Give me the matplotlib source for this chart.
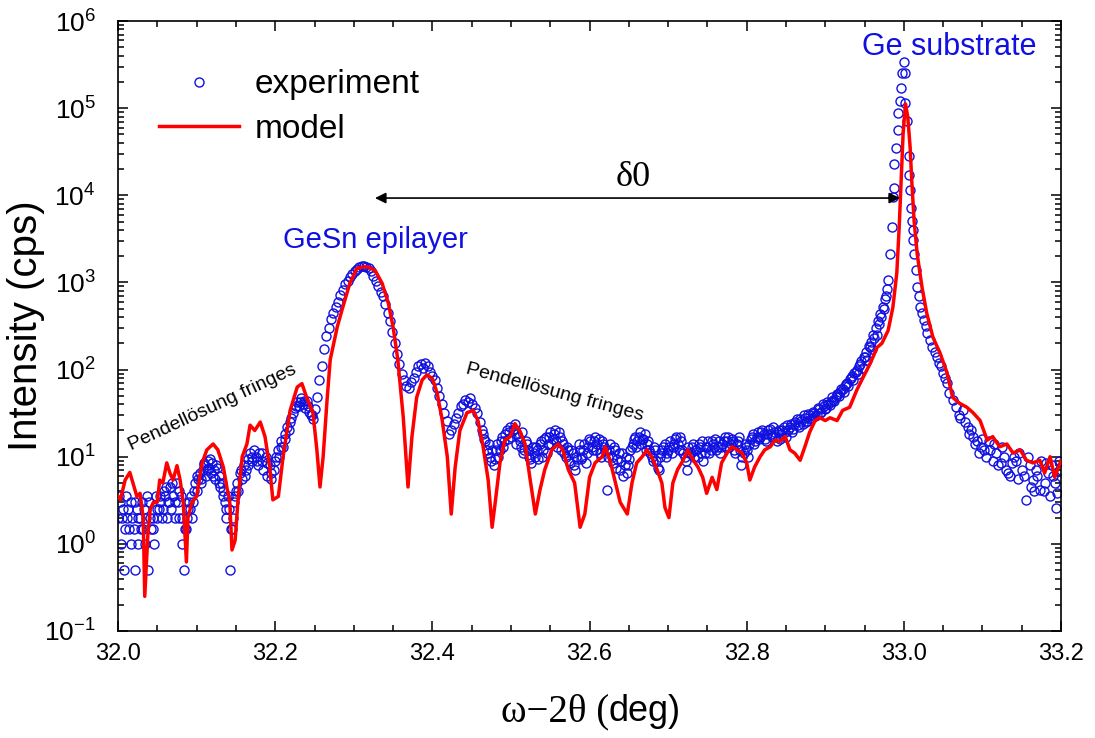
import numpy as np
import matplotlib
matplotlib.use('Agg')
import matplotlib.pyplot as plt
from matplotlib.lines import Line2D
from matplotlib.ticker import MultipleLocator, LogLocator, FuncFormatter, NullFormatter

plt.rcParams['font.family'] = ['Liberation Sans', 'DejaVu Sans']

# experiment (omega-2theta in deg, intensity in cps)
exp_x = [32.000, 32.002, 32.004, 32.006, 32.008, 32.010, 32.012, 32.014, 32.016, 32.018,
         32.020, 32.022, 32.024, 32.026, 32.028, 32.030, 32.032, 32.034, 32.036, 32.038,
         32.040, 32.042, 32.044, 32.046, 32.048, 32.050, 32.052, 32.054, 32.056, 32.058,
         32.060, 32.062, 32.064, 32.066, 32.068, 32.070, 32.072, 32.074, 32.076, 32.078,
         32.080, 32.082, 32.084, 32.086, 32.088, 32.090, 32.092, 32.094, 32.096, 32.098,
         32.100, 32.102, 32.104, 32.106, 32.108, 32.110, 32.112, 32.114, 32.116, 32.118,
         32.120, 32.122, 32.124, 32.126, 32.128, 32.130, 32.132, 32.134, 32.136, 32.138,
         32.140, 32.142, 32.144, 32.146, 32.148, 32.150,
         32.152, 32.155, 32.158, 32.160, 32.163, 32.165, 32.168, 32.170, 32.173, 32.175,
         32.178, 32.180, 32.183, 32.185, 32.188, 32.190, 32.193, 32.195, 32.198, 32.200,
         32.203, 32.205, 32.208, 32.210, 32.213, 32.215, 32.218, 32.220, 32.223, 32.225,
         32.228, 32.230, 32.233, 32.235, 32.238, 32.240, 32.243, 32.245, 32.248, 32.250,
         32.253, 32.256, 32.259, 32.262, 32.265, 32.268, 32.271, 32.274, 32.277, 32.280,
         32.283, 32.286, 32.289, 32.292, 32.295, 32.298, 32.301, 32.304, 32.307, 32.310,
         32.313, 32.316, 32.319, 32.322, 32.325, 32.328, 32.331, 32.334, 32.337, 32.340,
         32.343, 32.346, 32.349, 32.352, 32.355, 32.358, 32.361, 32.364, 32.367, 32.370,
         32.373, 32.376, 32.379, 32.382, 32.385, 32.388, 32.391, 32.394, 32.397, 32.400,
         32.403, 32.406, 32.409, 32.412, 32.415, 32.418, 32.421, 32.424, 32.427, 32.430,
         32.433, 32.436, 32.439, 32.442, 32.445, 32.448, 32.451, 32.454, 32.457, 32.460,
         32.463, 32.466, 32.469, 32.472, 32.475, 32.478, 32.481, 32.484, 32.487, 32.490,
         32.493, 32.496, 32.499, 32.502, 32.505, 32.508, 32.511, 32.514, 32.517, 32.520,
         32.523, 32.526, 32.529, 32.532, 32.535, 32.538, 32.541, 32.544, 32.547, 32.550,
         32.553, 32.556, 32.559, 32.562, 32.565, 32.568, 32.571, 32.574, 32.577, 32.580,
         32.583, 32.586, 32.589, 32.592, 32.595, 32.598, 32.601, 32.604, 32.607, 32.610,
         32.613, 32.616, 32.619, 32.622, 32.625, 32.628, 32.631, 32.634, 32.637, 32.640,
         32.643, 32.646, 32.649, 32.652, 32.655, 32.658, 32.661, 32.664, 32.667, 32.670,
         32.673, 32.676, 32.679, 32.682, 32.685, 32.688, 32.691, 32.694, 32.697, 32.700,
         32.703, 32.706, 32.709, 32.712, 32.715, 32.718, 32.721, 32.724, 32.727, 32.730,
         32.733, 32.736, 32.739, 32.742, 32.745, 32.748, 32.751, 32.754, 32.757, 32.760,
         32.763, 32.766, 32.769, 32.772, 32.775, 32.778, 32.781, 32.784, 32.787, 32.790,
         32.793, 32.796, 32.799, 32.802, 32.805, 32.808, 32.811, 32.814, 32.817, 32.820,
         32.823, 32.826, 32.829, 32.832, 32.835, 32.838, 32.841, 32.844, 32.847, 32.850,
         32.853, 32.856, 32.859, 32.862, 32.865, 32.868, 32.871, 32.874, 32.877, 32.880,
         32.883, 32.886, 32.889, 32.892, 32.895, 32.898, 32.901, 32.904, 32.907, 32.910,
         32.913, 32.916, 32.919, 32.922, 32.925, 32.928, 32.931, 32.934, 32.937, 32.940,
         32.943, 32.946, 32.949, 32.952, 32.955, 32.958, 32.961, 32.964, 32.967, 32.970,
         32.973, 32.976, 32.979, 32.980, 32.982, 32.985, 32.986, 32.987, 32.988, 32.990,
         32.992, 32.993, 32.995, 32.996, 32.998, 33.000, 33.001, 33.002, 33.004, 33.006,
         33.007, 33.008, 33.009, 33.010, 33.011, 33.013, 33.015, 33.017, 33.021, 33.025,
         33.030, 33.036, 33.042, 33.045, 33.050, 33.055, 33.058, 33.066, 33.070, 33.075,
         33.081, 33.085, 33.088, 33.090, 33.098, 33.100, 33.105, 33.108, 33.110, 33.117,
         33.120, 33.125, 33.130, 33.135, 33.138, 33.140, 33.147, 33.150, 33.155, 33.160,
         33.164, 33.165, 33.170, 33.173, 33.175, 33.180, 33.181, 33.186, 33.190, 33.194,
         33.195, 33.200]
exp_y = [2.0, 3.0, 1.0, 2.5, 0.5, 3.5, 2.0, 1.5, 3.0, 2.0,
         1.5, 0.5, 2.5, 1.0, 2.0, 3.0, 1.5, 1.0, 2.0, 0.5,
         3.0, 1.5, 2.0, 1.0, 3.5, 2.0, 2.5, 3.0, 2.0, 4.0,
         3.5, 2.0, 3.0, 4.5, 2.5, 3.5, 2.0, 5.0, 3.0, 2.0,
         3.5, 1.0, 0.5, 1.5, 2.0, 3.0, 2.5, 2.0, 3.0, 5.0,
         4.0, 5.5, 6.5, 5.0, 7.0, 8.0, 6.0, 9.0, 7.5, 6.5,
         8.5, 7.0, 5.5, 7.5, 6.0, 4.5, 5.0, 3.5, 3.0, 2.5,
         3.5, 0.5, 1.5, 2.0, 3.0, 4.0,
         5.0, 6.5, 5.5, 8.0, 7.0, 9.5, 11, 9.0, 12, 10,
         8.0, 11, 9.0, 7.0, 10, 6.0, 8.0, 5.5, 7.0, 9.0,
         12, 10, 15, 13, 18, 22, 20, 28, 32, 36,
         42, 38, 47, 40, 36, 44, 33, 30, 27, 35,
         48, 75, 110, 170, 240, 300, 380, 450, 520, 600,
         720, 820, 950, 1050, 1150, 1250, 1350, 1420, 1500, 1550,
         1530, 1500, 1450, 1350, 1200, 1050, 900, 780, 700, 560,
         450, 360, 270, 200, 150, 115, 90, 75, 65, 62,
         72, 80, 95, 110, 115, 105, 120, 110, 95, 85,
         75, 62, 50, 40, 32, 26, 18, 20, 24, 28,
         32, 38, 40, 45, 42, 47, 40, 36, 32, 25,
         20, 16, 12, 14, 9.0, 8.0, 12, 10, 15, 13,
         18, 16, 22, 20, 24, 18, 15, 19, 12, 14,
         10, 8.5, 11, 13, 9.5, 15, 12, 17, 14, 19,
         16, 20, 13, 17, 15, 11, 13, 9.0, 12, 8.0,
         10, 14, 9.5, 12, 8.5, 13, 15, 12, 17, 14,
         11, 15, 13, 4.2, 12, 10, 13, 7.5, 11, 9.0,
         6.0, 10, 8.0, 12, 14, 17, 15, 19, 16, 18,
         14, 12, 10, 13, 9.0, 7.0, 11, 13, 10, 12,
         15, 13, 16, 14, 17, 12, 10, 7.0, 11, 13,
         10, 12, 14, 11, 9.0, 13, 15, 12, 14, 16,
         13, 11, 14, 17, 15, 13, 16, 12, 14, 17,
         8.0, 11, 13, 10, 16, 18, 15, 19, 17, 20,
         16, 18, 21, 17, 19, 15, 20, 18, 22, 17,
         20, 24, 21, 25, 23, 27, 24, 28, 26, 30,
         28, 32, 30, 35, 33, 38, 36, 40, 42, 45,
         48, 52, 55, 60, 65, 70, 78, 85, 92, 100,
         110, 125, 140, 160, 185, 210, 250, 300, 360, 430,
         520, 650, 850, 1070, 2100, 4300, 9500, 12000, 23000, 35000,
         56000, 87000, 120000, 170000, 250000, 340000, 250000, 115000, 72000, 28000,
         17000, 11500, 7200, 5100, 3100, 2100, 1400, 890, 520, 370,
         260, 180, 140, 120, 91, 70, 54, 37, 30, 34,
         22, 20, 17, 14, 13, 16, 10, 15, 12, 11,
         8.0, 13, 7.0, 6.0, 8.5, 10, 11, 7.0, 3.2, 8.0,
         5.4, 4.0, 6.0, 4.2, 9.0, 5.0, 8.5, 3.5, 6.0, 2.6,
         3.8, 7.0]

# more experiment points read between the ones above (dense scan, scattered band)
exp2_x = [32.001, 32.005, 32.009, 32.013, 32.017, 32.021, 32.025, 32.029, 32.033, 32.037,
          32.041, 32.045, 32.049, 32.053, 32.057, 32.061, 32.065, 32.069, 32.073, 32.077,
          32.081, 32.085, 32.089, 32.093, 32.097, 32.101, 32.105, 32.109, 32.113, 32.117,
          32.121, 32.125, 32.129, 32.133, 32.137, 32.141, 32.145, 32.149, 32.153, 32.157,
          32.161, 32.165, 32.171, 32.177, 32.183, 32.189, 32.195, 32.201, 32.207, 32.213,
          32.219, 32.226, 32.232, 32.237, 32.242, 32.247,
          32.4645, 32.4675, 32.4705, 32.4735, 32.4765, 32.4795, 32.4825, 32.4855, 32.4885, 32.4915,
          32.4945, 32.4975, 32.5005, 32.5035, 32.5065, 32.5095, 32.5125, 32.5155, 32.5185, 32.5215,
          32.5245, 32.5275, 32.5305, 32.5335, 32.5365, 32.5395, 32.5425, 32.5455, 32.5485, 32.5515,
          32.5545, 32.5575, 32.5605, 32.5635, 32.5665, 32.5695, 32.5725, 32.5755, 32.5785, 32.5815,
          32.5845, 32.5875, 32.5905, 32.5935, 32.5965, 32.5995, 32.6025, 32.6055, 32.6085, 32.6115,
          32.6145, 32.6175, 32.6205, 32.6235, 32.6265, 32.6295, 32.6325, 32.6355, 32.6385, 32.6415,
          32.6445, 32.6475, 32.6505, 32.6535, 32.6565, 32.6595, 32.6625, 32.6655, 32.6685, 32.6715,
          32.6745, 32.6775, 32.6805, 32.6835, 32.6865, 32.6895, 32.6925, 32.6955, 32.6985, 32.7015,
          32.7045, 32.7075, 32.7105, 32.7135, 32.7165, 32.7195, 32.7225, 32.7255, 32.7285, 32.7315,
          32.7345, 32.7375, 32.7405, 32.7435, 32.7465, 32.7495, 32.7525, 32.7555, 32.7585, 32.7615,
          32.7645, 32.7675, 32.7705, 32.7735, 32.7765, 32.7795, 32.7825, 32.7855, 32.7885, 32.7915,
          32.7945, 32.7975, 32.8005, 32.8035, 32.8065, 32.8095, 32.8125, 32.8155, 32.8185, 32.8215,
          32.8245, 32.8275, 32.8305, 32.8335, 32.8365, 32.8395, 32.8425, 32.8455, 32.8485, 32.8515,
          32.8545, 32.8575, 32.8605, 32.8635, 32.8665, 32.8695, 32.8725, 32.8755, 32.8785, 32.8815,
          32.8845, 32.8875, 32.8905, 32.8935, 32.8965, 32.8995, 32.9025, 32.9055, 32.9085, 32.9115,
          32.9145, 32.9175, 32.9205, 32.9235, 32.9265, 32.9295, 32.9325, 32.9355, 32.9385, 32.9415,
          32.9445, 32.9475, 32.9505, 32.9535, 32.9565, 32.9595, 32.9625, 32.9655, 32.9685, 32.9715,
          32.9745, 32.9775,
          33.012, 33.019, 33.023, 33.028, 33.033, 33.039, 33.047, 33.052, 33.062, 33.072,
          33.078, 33.083, 33.093, 33.095, 33.102, 33.113, 33.115, 33.123, 33.128, 33.133,
          33.143, 33.145, 33.153, 33.158, 33.162, 33.168, 33.178, 33.183, 33.188, 33.192,
          33.198]
exp2_y = [3.5, 2.0, 1.5, 2.5, 1.0, 3.0, 2.0, 1.5, 2.5, 3.5,
          2.0, 1.5, 2.5, 3.5, 2.5, 4.5, 3.0, 5.0, 3.0, 4.0,
          2.0, 1.5, 2.5, 3.5, 4.0, 6.0, 5.5, 8.5, 7.0, 9.5,
          6.0, 8.0, 5.0, 4.0, 2.0, 2.5, 1.5, 3.5, 4.0, 7.0,
          6.0, 8.0, 10, 9.0, 11, 8.5, 6.5, 10, 13, 16,
          25, 38, 42, 44, 38, 30,
          18, 15, 11, 10, 12, 9.5, 14, 12, 17, 15,
          20, 19, 17, 21, 14, 17, 13, 11, 15, 12,
          9.5, 13, 10, 12, 14, 10, 16, 11, 17, 14,
          18, 15, 19, 12, 14, 10, 12, 8.5, 11, 7.0,
          9.5, 12, 10, 14, 11, 16, 13, 15, 12, 16,
          10, 14, 12, 10, 14, 8.5, 12, 9.5, 7.0, 11,
          8.0, 6.5, 9.5, 13, 16, 13, 17, 14, 16, 12,
          15, 11, 9.0, 12, 7.5, 10, 12, 14, 11, 13,
          11, 14, 17, 12, 15, 11, 9.0, 13, 11, 14,
          12, 10, 13, 15, 11, 13, 11, 15, 13, 12,
          15, 13, 15, 13, 17, 14, 15, 11, 15, 12,
          10, 14, 12, 14, 17, 14, 17, 16, 19, 18,
          15, 20, 18, 22, 17, 19, 16, 20, 19, 23,
          22, 19, 24, 27, 22, 26, 30, 25, 31, 27,
          33, 29, 36, 32, 40, 35, 43, 39, 48, 44,
          53, 50, 60, 56, 68, 64, 80, 75, 95, 90,
          115, 105, 140, 130, 180, 170, 230, 250, 330, 400,
          500, 700,
          4000, 700, 450, 320, 220, 160, 110, 80, 45, 28,
          25, 18, 15, 11, 12, 9.0, 14, 8.5, 10, 6.5,
          9.0, 5.5, 6.0, 10, 4.5, 7.0, 4.0, 6.5, 8.0, 5.0,
          9.0]

# model
mod_x = [32.000, 32.003, 32.009, 32.015, 32.019, 32.024, 32.028, 32.032, 32.034, 32.038,
         32.041, 32.045, 32.050, 32.053, 32.057, 32.062, 32.066, 32.070, 32.075, 32.079,
         32.083, 32.087, 32.089, 32.094, 32.100, 32.107, 32.113, 32.121, 32.127, 32.134,
         32.139, 32.142, 32.145, 32.149, 32.153, 32.158, 32.164, 32.168, 32.174, 32.181,
         32.187, 32.193, 32.197, 32.204, 32.210, 32.219, 32.228, 32.234, 32.240, 32.248,
         32.253, 32.257, 32.261, 32.266, 32.270, 32.279, 32.286, 32.295, 32.304, 32.312,
         32.318, 32.327, 32.336, 32.344, 32.350, 32.356, 32.363, 32.369, 32.374, 32.380,
         32.387, 32.393, 32.400, 32.406, 32.412, 32.419, 32.424, 32.429, 32.435, 32.444,
         32.452, 32.458, 32.464, 32.471, 32.476, 32.480, 32.486, 32.492, 32.499, 32.505,
         32.511, 32.518, 32.524, 32.531, 32.537, 32.543, 32.552, 32.560, 32.566, 32.573,
         32.581, 32.588, 32.594, 32.600, 32.607, 32.616, 32.620, 32.626, 32.633, 32.639,
         32.648, 32.654, 32.660, 32.667, 32.673, 32.679, 32.686, 32.692, 32.696, 32.701,
         32.706, 32.712, 32.719, 32.725, 32.732, 32.738, 32.744, 32.749, 32.756, 32.762,
         32.768, 32.775, 32.781, 32.788, 32.794, 32.800, 32.804, 32.810, 32.817, 32.823,
         32.830, 32.836, 32.842, 32.849, 32.855, 32.861, 32.868, 32.874, 32.880, 32.887,
         32.893, 32.900, 32.906, 32.915, 32.922, 32.931, 32.940, 32.948, 32.957, 32.966,
         32.972, 32.980, 32.986, 32.991, 32.994, 32.997, 32.999, 33.002, 33.005, 33.008,
         33.010, 33.013, 33.017, 33.023, 33.029, 33.037, 33.046, 33.055, 33.062, 33.071,
         33.080, 33.088, 33.097, 33.106, 33.113, 33.122, 33.131, 33.139, 33.148, 33.156,
         33.164, 33.173, 33.179, 33.186, 33.192, 33.200]
mod_y = [3.5, 3.2, 5.4, 6.6, 5.0, 3.5, 3.8, 2.0, 0.25, 1.3,
         2.5, 3.0, 3.0, 5.4, 5.0, 8.5, 6.5, 5.4, 7.9, 5.4,
         3.0, 0.62, 2.0, 3.0, 3.5, 8.5, 12, 14, 12, 7.6,
         4.2, 3.2, 0.85, 1.1, 3.5, 10, 14, 23, 20, 25,
         17, 7.6, 3.2, 3.5, 10, 34, 63, 69, 48, 32,
         12, 4.5, 10, 45, 130, 310, 520, 980, 1450, 1510,
         1500, 1380, 980, 575, 310, 130, 28, 4.5, 17, 48,
         76, 87, 79, 54, 28, 10, 2.2, 7.6, 20, 32,
         34, 26, 14, 5.4, 1.55, 3.0, 8.5, 15.5, 17, 24,
         20, 14, 5.8, 2.2, 4.2, 7.1, 12, 14, 12, 7.1,
         5.0, 1.55, 2.2, 5.8, 8.5, 10, 13, 9.1, 5.0, 3.0,
         2.2, 5.0, 8.5, 10, 12, 10, 7.1, 5.0, 2.6, 2.0,
         5.0, 7.1, 9.1, 12, 9.1, 7.6, 5.8, 3.8, 5.8, 4.2,
         8.5, 11, 13, 12, 11, 8.5, 5.4, 7.6, 10, 12,
         13, 15.5, 15, 17, 12, 11, 9.1, 13, 19, 26,
         28, 26, 28, 26, 34, 37, 58, 81, 117, 180,
         200, 282, 520, 1290, 4270, 19500, 51000, 112000, 79000, 35000,
         14800, 5100, 2100, 890, 447, 234, 155, 91, 48, 41,
         37, 32, 26, 15.5, 17, 13, 14, 11, 12, 9.1,
         8.5, 9.1, 6.5, 10, 5.8, 9.1]

blue = '#1010e0'
red = '#ff0000'

fig = plt.figure(figsize=(10.95, 7.38), dpi=100)
ax = fig.add_axes([0.1078, 0.145, 0.8612, 0.8265])

ax.plot(exp_x + exp2_x, exp_y + exp2_y, 'o', ms=6.5, mfc='none', mec=blue, mew=1.0, zorder=2)
ax.plot(mod_x, mod_y, '-', color=red, lw=2.5, zorder=3)

ax.set_yscale('log')
ax.set_xlim(32.0, 33.2)
ax.set_ylim(1e-1, 1e6)

ax.xaxis.set_major_locator(MultipleLocator(0.2))
ax.xaxis.set_minor_locator(MultipleLocator(0.05))
ax.xaxis.set_major_formatter(FuncFormatter(lambda v, p: '%.1f' % v))
ax.yaxis.set_major_locator(LogLocator(base=10, numticks=10))
ax.yaxis.set_minor_locator(LogLocator(base=10, subs=np.arange(2, 10), numticks=20))
ax.yaxis.set_minor_formatter(NullFormatter())
ax.yaxis.set_major_formatter(FuncFormatter(lambda v, p: r'$\mathregular{10^{%d}}$' % round(np.log10(v))))

ax.tick_params(which='both', direction='in', top=True, right=True, width=1.1)
ax.tick_params(which='major', length=7)
ax.tick_params(axis='x', which='major', labelsize=17, pad=9)
ax.tick_params(axis='y', which='major', labelsize=19, pad=16)
ax.tick_params(which='minor', length=4)
for s in ax.spines.values():
    s.set_linewidth(1.2)

ax.set_ylabel('Intensity (cps)', fontsize=29, labelpad=-1)
# x label: greek part in a serif face, unit in sans
fig.text(0.556, 0.036, 'ω−2θ (', family='Liberation Serif', fontsize=28, ha='right', va='center')
fig.text(0.556, 0.036, 'deg)', fontsize=26, ha='left', va='center')

# legend
h_exp = Line2D([], [], ls='none', marker='o', ms=6.5, mfc='none', mec=blue, mew=1.0)
h_mod = Line2D([], [], color=red, lw=2.5)
ax.legend([h_exp, h_mod], ['experiment', 'model'], loc='upper left',
          bbox_to_anchor=(0.012, 0.97), frameon=False, fontsize=24,
          handlelength=2.4, handletextpad=0.45, labelspacing=0.4)

# annotations
ax.text(32.328, 3100, 'GeSn epilayer', color=blue, fontsize=21, ha='center', va='center')
ax.text(33.058, 5.0e5, 'Ge substrate', color=blue, fontsize=22, ha='center', va='center')
ax.text(32.655, 16000, 'δ0', family='Liberation Serif', fontsize=26, ha='center', va='center')
ax.annotate('', xy=(32.327, 9300), xytext=(32.995, 9300),
            arrowprops=dict(arrowstyle='<|-|>', color='black', lw=1.2,
                            mutation_scale=16, shrinkA=0, shrinkB=0))
ax.text(32.12, 37, 'Pendellösung fringes', fontsize=14, rotation=25,
        ha='center', va='center', rotation_mode='anchor')
ax.text(32.556, 54, 'Pendellösung fringes', fontsize=14, rotation=-15,
        ha='center', va='center', rotation_mode='anchor')

fig.savefig('out.png', dpi=100)
